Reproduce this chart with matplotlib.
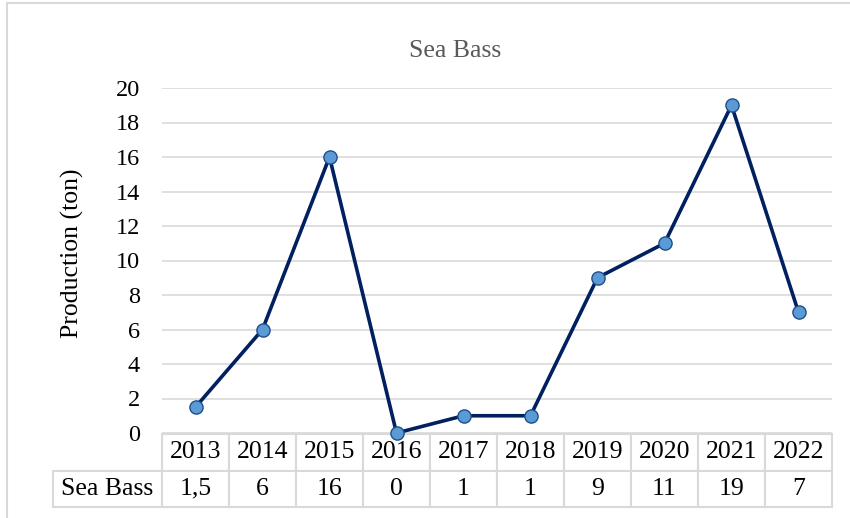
import matplotlib
matplotlib.use("Agg")
import matplotlib.pyplot as plt
from matplotlib.patches import Rectangle

plt.rcParams['font.family'] = ['Liberation Serif', 'DejaVu Serif']

# data
years = ['2013', '2014', '2015', '2016', '2017', '2018', '2019', '2020', '2021', '2022']
sea_bass = [1.5, 6, 16, 0, 1, 1, 9, 11, 19, 7]
series_name = 'Sea Bass'

grid_col = '#d9d9d9'
line_col = '#002060'
marker_col = '#5b9bd5'

fig = plt.figure(figsize=(8.5, 5.18), dpi=100)
W, H = 850, 518
ax = fig.add_axes([162 / W, (H - 433) / H, 670 / W, 345 / H])

x = list(range(len(years)))
ax.plot(x, sea_bass, color=line_col, lw=2.6, marker='o', markersize=9.5,
        markerfacecolor=marker_col, markeredgecolor='#1f4e8c', markeredgewidth=1.0,
        zorder=3, clip_on=False)

ax.set_xlim(-0.5, len(years) - 0.5)
ax.set_ylim(0, 20)
ax.set_yticks(range(0, 21, 2))
ax.set_xticks([])
ax.grid(axis='y', color=grid_col, lw=1.2)
ax.set_axisbelow(True)
for s in ax.spines.values():
    s.set_visible(False)
ax.tick_params(axis='y', length=0, labelsize=17.5, pad=16)

ax.set_ylabel('Production (ton)', fontsize=18.5)
ax.yaxis.set_label_coords(-0.117, 0.52)

# data table under the plot
labels = [f"{v:g}".replace('.', ',') for v in sea_bass]
cell_text = [[''] + years, [series_name] + labels]
col_w = [109] + [67] * len(years)
tot = sum(col_w)
tbl = ax.table(cellText=cell_text, colWidths=[c / tot for c in col_w],
               cellLoc='center', bbox=[-109 / 670, -74 / 345, tot / 670, 73 / 345])
tbl.auto_set_font_size(False)
tbl.set_fontsize(18.5)
for (r, c), cell in tbl.get_celld().items():
    cell.set_edgecolor(grid_col)
    cell.set_linewidth(1.5)
    if r == 0 and c == 0:
        cell.set_visible(False)

# title and chart border
fig.text(455 / W, 1 - 51 / H, 'Sea Bass', color='#595959', fontsize=18.5,
         ha='center', va='center')
fig.patches.append(Rectangle((7 / W, -0.1), 1.2, 1.1 - 3 / H, transform=fig.transFigure,
                             fill=False, edgecolor=grid_col, lw=1.5))

fig.savefig('out.png', dpi=100)
plt.close(fig)
